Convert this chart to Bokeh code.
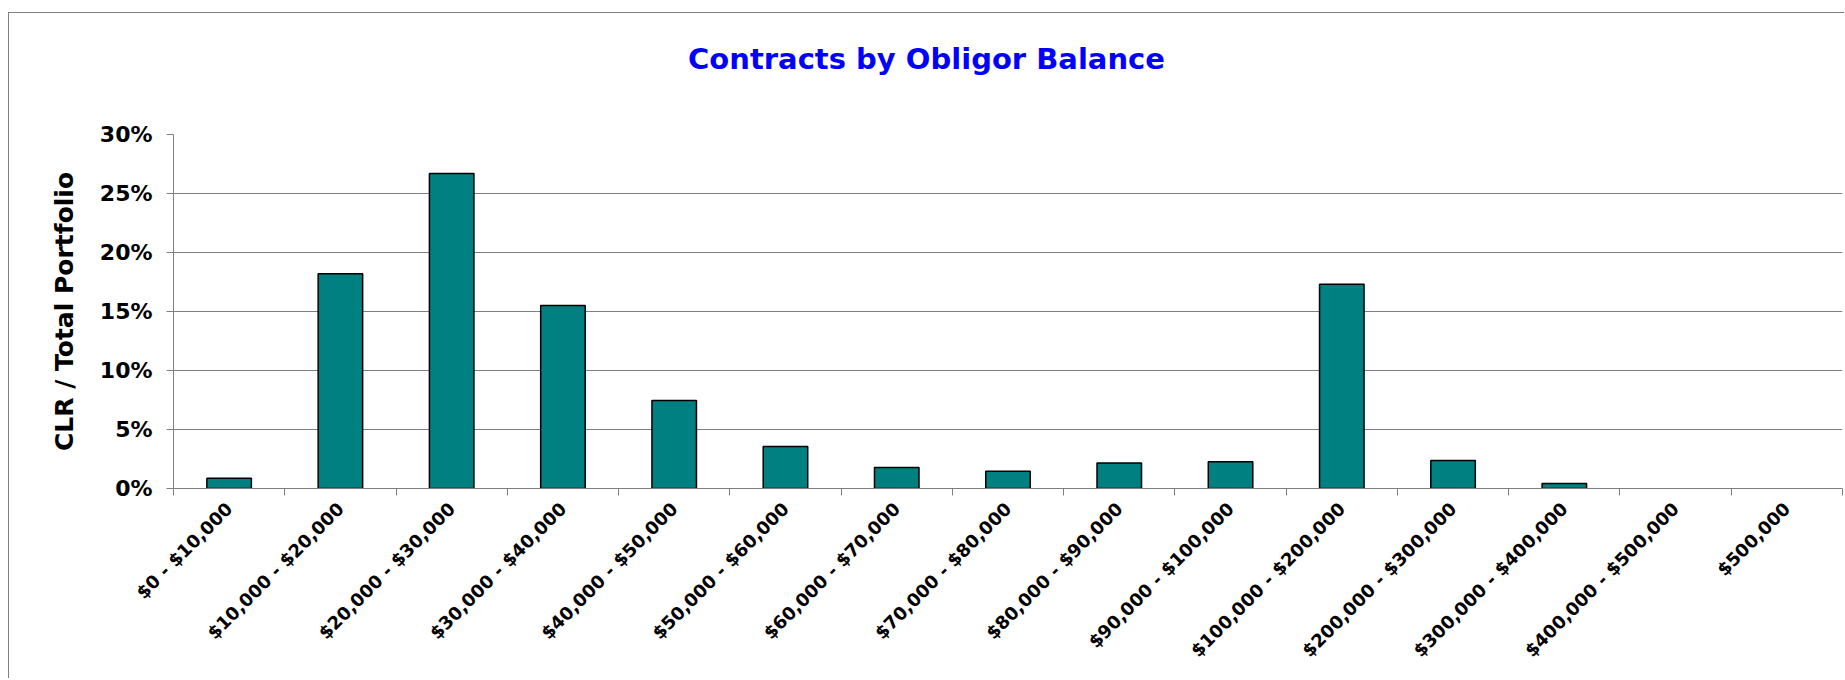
import math
from bokeh.plotting import figure
from bokeh.layouts import column
from bokeh.models import FixedTicker, NumeralTickFormatter, ColumnDataSource, Range1d, Div
from bokeh.embed import file_html
from bokeh.resources import INLINE

categories = [
    "$0 - $10,000", "$10,000 - $20,000", "$20,000 - $30,000", "$30,000 - $40,000",
    "$40,000 - $50,000", "$50,000 - $60,000", "$60,000 - $70,000", "$70,000 - $80,000",
    "$80,000 - $90,000", "$90,000 - $100,000", "$100,000 - $200,000",
    "$200,000 - $300,000", "$300,000 - $400,000", "$400,000 - $500,000", "$500,000",
]
share = [0.0087, 0.182, 0.267, 0.155, 0.0745, 0.0356, 0.0177, 0.0147,
         0.0217, 0.0226, 0.173, 0.0237, 0.0042, 0.0, 0.0]
y_ticks = [0.0, 0.05, 0.10, 0.15, 0.20, 0.25, 0.30]

title_text = "Contracts by Obligor Balance"
y_label = "CLR / Total Portfolio"

n = len(categories)
centers = [i + 0.5 for i in range(n)]
src = ColumnDataSource(dict(
    x=[c for c, v in zip(centers, share) if v > 0],
    top=[v for v in share if v > 0],
))

FONT = "DejaVu Sans"
GRAY = "#7f7f7f"
W = 1835
TITLE_H = 80

title = Div(text=title_text, width=W, height=TITLE_H, margin=0,
            styles={"text-align": "center", "color": "#0000FF",
                    "font-family": "'DejaVu Sans'", "font-weight": "bold",
                    "font-size": "29px", "line-height": "36px",
                    "padding-top": "28px", "box-sizing": "border-box",
                    "width": f"{W}px"})

p = figure(width=W, height=665 - TITLE_H, output_backend="svg", toolbar_location=None,
           x_range=Range1d(0, n), y_range=Range1d(0, 0.30),
           min_border_left=164, min_border_right=2, min_border_top=121 - TITLE_H,
           min_border_bottom=190, margin=0)
p.title.text = ""

p.vbar(x="x", top="top", width=0.4, bottom=0, source=src,
       fill_color="#008080", line_color="black", line_width=1.5)

p.outline_line_color = None
p.xgrid.grid_line_color = None
p.ygrid.ticker = FixedTicker(ticks=y_ticks)
p.ygrid.grid_line_color = GRAY
p.ygrid.grid_line_width = 1

# y axis
ya = p.yaxis[0]
ya.ticker = FixedTicker(ticks=y_ticks)
ya.formatter = NumeralTickFormatter(format="0%")
ya.axis_line_color = GRAY
ya.major_tick_line_color = GRAY
ya.major_tick_out = 7
ya.major_tick_in = 0
ya.minor_tick_line_color = None
ya.major_label_text_font = FONT
ya.major_label_text_font_style = "bold"
ya.major_label_text_font_size = "22px"
ya.major_label_text_color = "black"
ya.major_label_standoff = 14
ya.axis_label = y_label
ya.axis_label_text_font = FONT
ya.axis_label_text_font_style = "bold"
ya.axis_label_text_font_size = "25px"
ya.axis_label_text_color = "black"
ya.axis_label_standoff = 18

# x axis: labels at category centres, tick marks at boundaries
xa = p.xaxis[0]
xa.ticker = FixedTicker(ticks=centers, minor_ticks=list(range(n + 1)))
xa.major_label_overrides = {c: lab for c, lab in zip(centers, categories)}
xa.major_label_orientation = math.pi / 4
xa.axis_line_color = GRAY
xa.major_tick_line_color = None
xa.major_tick_out = 0
xa.major_tick_in = 0
xa.minor_tick_line_color = GRAY
xa.minor_tick_out = 7
xa.minor_tick_in = 0
xa.major_label_text_font = FONT
xa.major_label_text_font_style = "bold"
xa.major_label_text_font_size = "18px"
xa.major_label_text_color = "black"
xa.major_label_standoff = 10

layout = column(title, p, spacing=0,
                styles={"border-top": "1px solid #7f7f7f",
                        "border-left": "1px solid #7f7f7f",
                        "margin-top": "12px", "margin-left": "8px"})

open("out.html", "w").write(file_html(layout, INLINE))
